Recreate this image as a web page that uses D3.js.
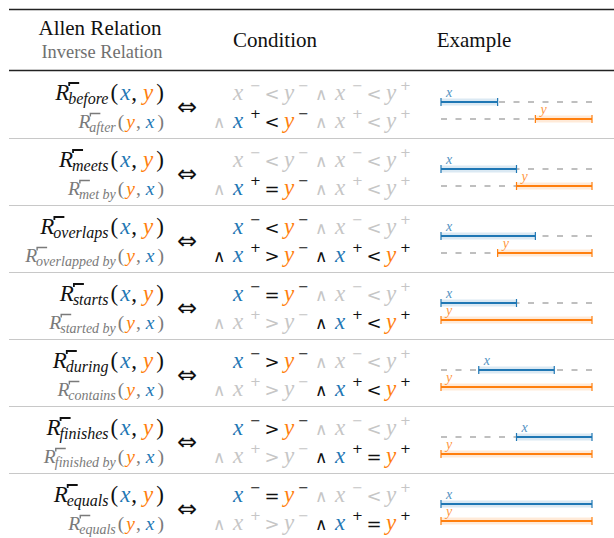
<!DOCTYPE html>
<html><head><meta charset="utf-8">
<script src="https://cdn.jsdelivr.net/npm/d3@7"></script>
<style>
html,body{margin:0;padding:0;background:#fff;}
svg{display:block;}
.serif{font-family:"Liberation Serif","DejaVu Serif",serif;}
.sans{font-family:"DejaVu Sans",sans-serif;}
</style></head>
<body>
<svg id="chart" width="614" height="538"></svg>
<script>
// ---------- data ----------
const relations = ["before","meets","overlaps","starts","during","finishes","equals"];
const inverses  = ["after","met by","overlapped by","started by","contains","finished by","equals"];
const xStart = [0,0,0,0,2,4,0];
const xEnd   = [3,4,5,4,6,8,8];
const yStart = [5,4,3,0,0,0,0];
const yEnd   = [8,8,8,8,8,8,8];
const ops = [
  ["<","<","<","<"],
  ["<","<","=","<"],
  ["<","<",">","<"],
  ["=","<",">","<"],
  [">","<",">","<"],
  [">","<",">","="],
  ["=","<",">","="]
];
const active = [
  [0,0,1,0],
  [0,0,1,0],
  [1,0,1,1],
  [1,0,0,1],
  [1,0,0,1],
  [1,0,0,1],
  [1,0,0,1]
];
const termSigns = [["−","−"],["−","+"],["+","−"],["+","+"]];
const headers = {relation:"Allen Relation", inverse:"Inverse Relation", condition:"Condition", example:"Example"};
const domainMax = 8;

// ---------- styles ----------
const BLUE="#1f77b4", ORANGE="#ff7f0e", GRAY="#c6c6c6", DIM="#7a7a7a";

const svg = d3.select("#chart");

// rules
svg.append("line").attr("x1",9).attr("x2",614).attr("y1",9.5).attr("y2",9.5).attr("stroke","#222").attr("stroke-width",1.6);
svg.append("line").attr("x1",9).attr("x2",614).attr("y1",70.5).attr("y2",70.5).attr("stroke","#222").attr("stroke-width",1.3);

// headers
function htext(x,y,size,fill,txt){
  svg.append("text").attr("class","serif").attr("x",x).attr("y",y).attr("text-anchor","middle")
    .style("font-size",size+"px").attr("fill",fill).text(txt);
}
htext(100,35,21,"#111",headers.relation);
htext(102,58,18.4,"#707070",headers.inverse);
htext(275,47,21,"#111",headers.condition);
htext(474,47,21,"#111",headers.example);

const rowScale = d3.scaleBand().domain(relations).range([72, 72+67*relations.length]);
const xs = d3.scaleLinear().domain([0,domainMax]).range([441,592]);

// row separators
relations.slice(1).forEach(r=>{
  const y = rowScale(r)-0.5;
  svg.append("line").attr("x1",9).attr("x2",614).attr("y1",y).attr("y2",y).attr("stroke","#c8c8c8").attr("stroke-width",1.2);
});

function relText(g, name, first, second, big, baseline, isMain){
  const fs = big ? 23 : 19.5, sfs = big ? 16 : 14;
  const col = isMain ? "#111" : DIM;
  const t = g.append("text").attr("class","serif").attr("x",164).attr("y",baseline).attr("text-anchor","end")
    .style("font-size",fs+"px").attr("fill",col);
  t.append("tspan").style("font-style","italic").text("R");
  t.append("tspan").style("font-style","italic").style("font-size",sfs+"px").attr("dy",4).attr("dx",-1).text(name);
  t.append("tspan").attr("dy",-4).attr("dx",2).text("(");
  t.append("tspan").style("font-style","italic").attr("dx",2).attr("fill",first==="x"?BLUE:ORANGE).text(first);
  t.append("tspan").attr("dx",1).text(",");
  t.append("tspan").style("font-style","italic").attr("dx",big?6:5).attr("fill",second==="x"?BLUE:ORANGE).text(second);
  t.append("tspan").attr("dx",3).text(")");
  // overbar accent above R
  const node = t.node();
  const p = node.getStartPositionOfChar(1);
  const top = baseline - fs*0.74;
  const bx = p.x + 1;
  g.append("path").attr("d",`M${bx},${top+3}V${top}H${bx+10}`)
    .attr("fill","none").attr("stroke",col).attr("stroke-width",big?1.8:1.4);
}

relations.forEach((rel,i)=>{
  const T = rowScale(rel);
  const g = svg.append("g");
  relText(g, rel, "x","y", true, T+28, true);
  relText(g, inverses[i], "y","x", false, T+56, false);

  // arrow
  g.append("text").attr("class","sans").attr("x",187).attr("y",T+43).attr("text-anchor","middle")
    .style("font-size","24px").attr("fill","#111").text("⇔");

  // condition terms
  let seen = false;
  for(let k=0;k<4;k++){
    const on = active[i][k]===1;
    const line = k<2?0:1, slot = k%2;
    const X0 = slot===0?213:315;
    const by = T + (line===0?28:56);
    if(k>0){
      const andOn = on && seen;
      g.append("text").attr("class","sans").attr("x",X0).attr("y",by).style("font-size","17px")
        .attr("fill",andOn?"#111":GRAY).text("∧");
    }
    const c1 = on?BLUE:GRAY, c2 = on?ORANGE:GRAY, cs = on?"#111":GRAY;
    g.append("text").attr("class","serif").attr("x",X0+20).attr("y",by).style("font-style","italic")
      .style("font-size","23px").attr("fill",c1).text("x");
    g.append("text").attr("class","sans").attr("x",X0+37).attr("y",by-10).style("font-size","13px")
      .attr("fill",cs).text(termSigns[k][0]);
    g.append("text").attr("class","sans").attr("x",X0+59).attr("y",by).attr("text-anchor","middle")
      .style("font-size","18px").attr("fill",cs).text(ops[i][k]);
    g.append("text").attr("class","serif").attr("x",X0+71).attr("y",by).style("font-style","italic")
      .style("font-size","23px").attr("fill",c2).text("y");
    g.append("text").attr("class","sans").attr("x",X0+85).attr("y",by-10).style("font-size","13px")
      .attr("fill",cs).text(termSigns[k][1]);
    if(on) seen = true;
  }

  // example intervals
  const bars = [
    {lab:"x", s:xStart[i], e:xEnd[i], y:T+30, c:BLUE, band:"rgba(31,119,180,0.16)"},
    {lab:"y", s:yStart[i], e:yEnd[i], y:T+47, c:ORANGE, band:"rgba(255,127,14,0.16)"}
  ];
  bars.forEach(b=>{
    g.append("line").attr("x1",xs(0)).attr("x2",xs(domainMax)).attr("y1",b.y).attr("y2",b.y)
      .attr("stroke","#aaa").attr("stroke-width",1.6).attr("stroke-dasharray","6,8.5");
    g.append("rect").attr("x",xs(b.s)).attr("width",xs(b.e)-xs(b.s)).attr("y",b.y-3.5).attr("height",7)
      .attr("fill",b.band);
    g.append("line").attr("x1",xs(b.s)).attr("x2",xs(b.e)).attr("y1",b.y).attr("y2",b.y)
      .attr("stroke",b.c).attr("stroke-width",2);
    [b.s,b.e].forEach(v=>{
      g.append("line").attr("x1",xs(v)).attr("x2",xs(v)).attr("y1",b.y-4).attr("y2",b.y+4)
        .attr("stroke",b.c).attr("stroke-width",1.2);
    });
    g.append("text").attr("class","serif").attr("x",xs(b.s)+5).attr("y",b.y-5).style("font-style","italic")
      .style("font-size","14px").attr("fill",b.c).attr("opacity",0.8).text(b.lab);
  });
});
</script>
</body></html>
